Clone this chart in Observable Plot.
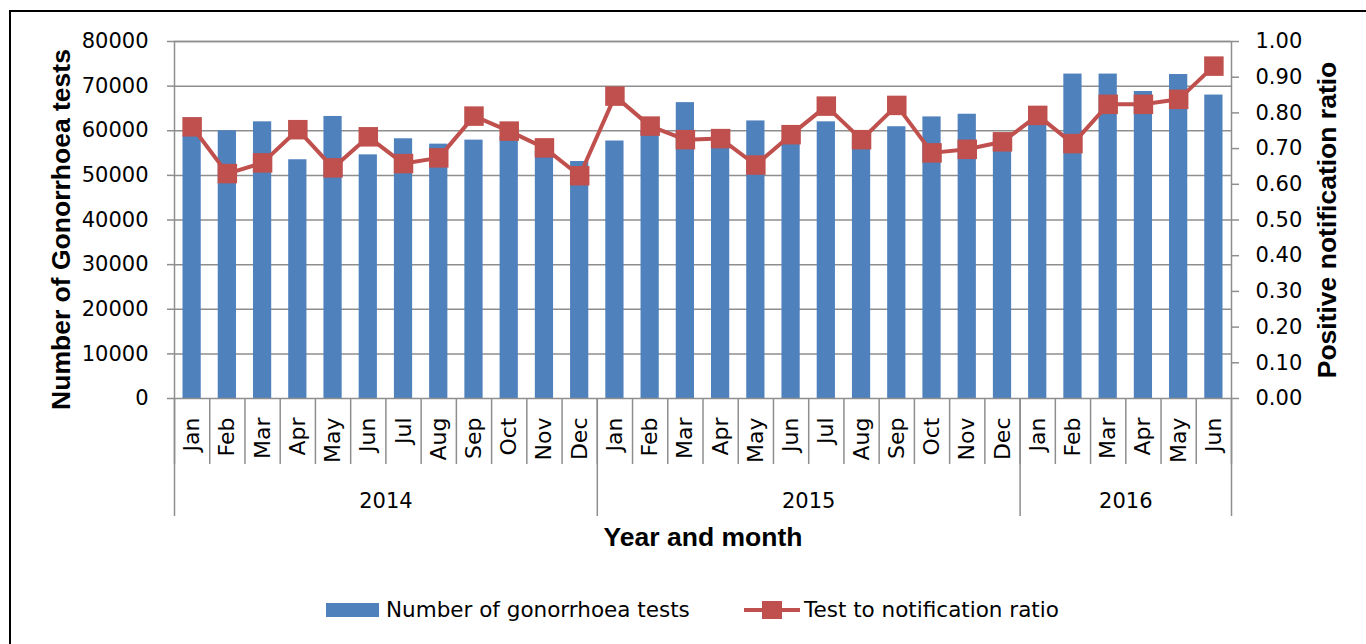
<!DOCTYPE html>
<html>
<head>
<meta charset="utf-8">
<script src="https://cdn.jsdelivr.net/npm/d3@7"></script>
<script src="https://cdn.jsdelivr.net/npm/@observablehq/plot@0.6"></script>
<style>
  html, body { margin: 0; padding: 0; background: #fff; }
  body { width: 1366px; height: 644px; position: relative; overflow: hidden; font-family: "DejaVu Sans", sans-serif; }
  #frame { position: absolute; left: 9px; top: 10px; width: 1400px; height: 700px; border-left: 2px solid #000; border-top: 2px solid #000; }
  #chart { position: absolute; left: 0; top: 0; }
  .sw { position: absolute; }
  .lt { position: absolute; font-family: "DejaVu Sans", sans-serif; font-size: 21.5px; line-height: 21.5px; color: #000; white-space: nowrap; }
</style>
</head>
<body>
<div id="frame"></div>
<div id="chart"></div>
<div id="legend"></div>
<script>
// ---- data ----
const monthLabels = ["Jan","Feb","Mar","Apr","May","Jun","Jul","Aug","Sep","Oct","Nov","Dec",
                     "Jan","Feb","Mar","Apr","May","Jun","Jul","Aug","Sep","Oct","Nov","Dec",
                     "Jan","Feb","Mar","Apr","May","Jun"];
const yearOfMonth = ["2014","2014","2014","2014","2014","2014","2014","2014","2014","2014","2014","2014",
                     "2015","2015","2015","2015","2015","2015","2015","2015","2015","2015","2015","2015",
                     "2016","2016","2016","2016","2016","2016"];
const tests = [58800, 60000, 62000, 53500, 63200, 54600, 58200, 57000, 57900, 58700, 55500, 53100,
               57700, 60000, 66300, 59000, 62200, 58000, 62000, 58000, 60900, 63100, 63700, 59000,
               62000, 72700, 72700, 68800, 72600, 68000];
const ratio = [0.761, 0.630, 0.660, 0.753, 0.646, 0.733, 0.658, 0.674, 0.791, 0.749, 0.702, 0.624,
               0.847, 0.763, 0.725, 0.728, 0.654, 0.739, 0.819, 0.725, 0.821, 0.688, 0.698, 0.719,
               0.793, 0.714, 0.824, 0.824, 0.838, 0.931];
const testTicks = [0, 10000, 20000, 30000, 40000, 50000, 60000, 70000, 80000];
const ratioTicks = [0, 0.1, 0.2, 0.3, 0.4, 0.5, 0.6, 0.7, 0.8, 0.9, 1.0];
const seriesNames = ["Number of gonorrhoea tests", "Test to notification ratio"];
const axisTitles = { left: "Number of Gonorrhoea tests", right: "Positive notification ratio", x: "Year and month" };

// ---- build ----
const blue = "#4F81BD", red = "#C0504D", gray = "#8e8e8e";
const yMax = testTicks[testTicks.length - 1];
const rMax = ratioTicks[ratioTicks.length - 1];
const k = yMax / rMax; // maps ratio onto the test axis

const data = monthLabels.map((m, i) => ({ i, month: m, year: yearOfMonth[i], tests: tests[i], ratio: ratio[i] }));
const n = data.length;
const boundaries = d3.range(0, n + 1);
const centers = data.map(d => d.i + 0.5);
const years = Array.from(new Set(yearOfMonth));
const yearGroups = years.map(y => {
  const idx = data.filter(d => d.year === y).map(d => d.i);
  return { year: y, start: d3.min(idx), end: d3.max(idx) + 1 };
});
const yearBounds = Array.from(new Set(yearGroups.flatMap(g => [g.start, g.end])));
const yearCenters = yearGroups.map(g => (g.start + g.end) / 2);

const H = 575;
const chart = Plot.plot({
  width: 1366,
  height: H,
  marginLeft: 174,
  marginRight: 135,
  marginTop: 41,
  marginBottom: H - 398,
  style: { fontFamily: "DejaVu Sans", fontSize: "21px", color: "#000", background: "transparent", overflow: "visible" },
  x: { domain: [0, n] },
  y: { domain: [0, yMax] },
  marks: [
    Plot.gridY(testTicks.slice(1), { stroke: gray, strokeOpacity: 1, strokeWidth: 1.5 }),
    Plot.rectY(data, { x1: d => d.i, x2: d => d.i + 1, y: "tests", insetLeft: 8.5, insetRight: 8.5, fill: blue }),
    Plot.frame({ stroke: gray, strokeWidth: 1.5 }),
    Plot.axisY({ ticks: testTicks, anchor: "left", tickSize: 7, tickPadding: 19, tickFormat: d => String(d),
                 stroke: gray, strokeWidth: 1.5, fill: "#000", label: null }),
    Plot.axisY({ ticks: ratioTicks.map(t => t * k), anchor: "right", tickSize: 7, tickPadding: 17,
                 tickFormat: d => (d / k).toFixed(2), stroke: gray, strokeWidth: 1.5, fill: "#000", label: null }),
    Plot.axisX({ ticks: boundaries, tickSize: 66, tickFormat: () => "", stroke: gray, strokeWidth: 1.5, label: null }),
    Plot.axisX({ ticks: yearBounds, tickSize: 118, tickFormat: () => "", stroke: gray, strokeWidth: 1.5, label: null }),
    Plot.axisX({ ticks: centers, tickSize: 0, tickPadding: 19, tickRotate: -90,
                 tickFormat: d => monthLabels[Math.floor(d)], fontSize: 22, fill: "#000", label: null }),
    Plot.axisX({ ticks: yearCenters, tickSize: 0, tickPadding: 95,
                 tickFormat: d => yearGroups[yearCenters.indexOf(d)].year, fontSize: 21, fill: "#000", label: null }),
    Plot.line(data, { x: d => d.i + 0.5, y: d => d.ratio * k, stroke: red, strokeWidth: 4 }),
    Plot.dot(data, { x: d => d.i + 0.5, y: d => d.ratio * k, symbol: "square", r: 11, fill: red }),
    Plot.text([axisTitles.left], { frameAnchor: "left", textAnchor: "middle", lineAnchor: "middle",
               dx: -113, dy: 9.5, rotate: -90,
               fontFamily: "Liberation Sans", fontWeight: "bold", fontSize: 26.5, fill: "#000" }),
    Plot.text([axisTitles.right], { frameAnchor: "right", textAnchor: "middle", lineAnchor: "middle",
               dx: 96, rotate: -90,
               fontFamily: "Liberation Sans", fontWeight: "bold", fontSize: 26.5, fill: "#000" }),
    Plot.text([axisTitles.x], { frameAnchor: "bottom", textAnchor: "middle", lineAnchor: "middle", dy: 139,
               fontFamily: "Liberation Sans", fontWeight: "bold", fontSize: 26.5, fill: "#000" })
  ]
});
document.getElementById("chart").appendChild(chart);

// ---- legend (HTML, below the plot) ----
const lg = document.getElementById("legend");
lg.innerHTML = `
  <div class="sw" style="left:326px;top:603px;width:53px;height:14px;background:${blue}"></div>
  <div class="lt" style="left:386px;top:599px">${seriesNames[0]}</div>
  <div class="sw" style="left:744px;top:608px;width:56px;height:4px;background:${red}"></div>
  <div class="sw" style="left:762px;top:601px;width:20px;height:18px;background:${red}"></div>
  <div class="lt" style="left:804px;top:599px">${seriesNames[1]}</div>
`;
</script>
</body>
</html>
